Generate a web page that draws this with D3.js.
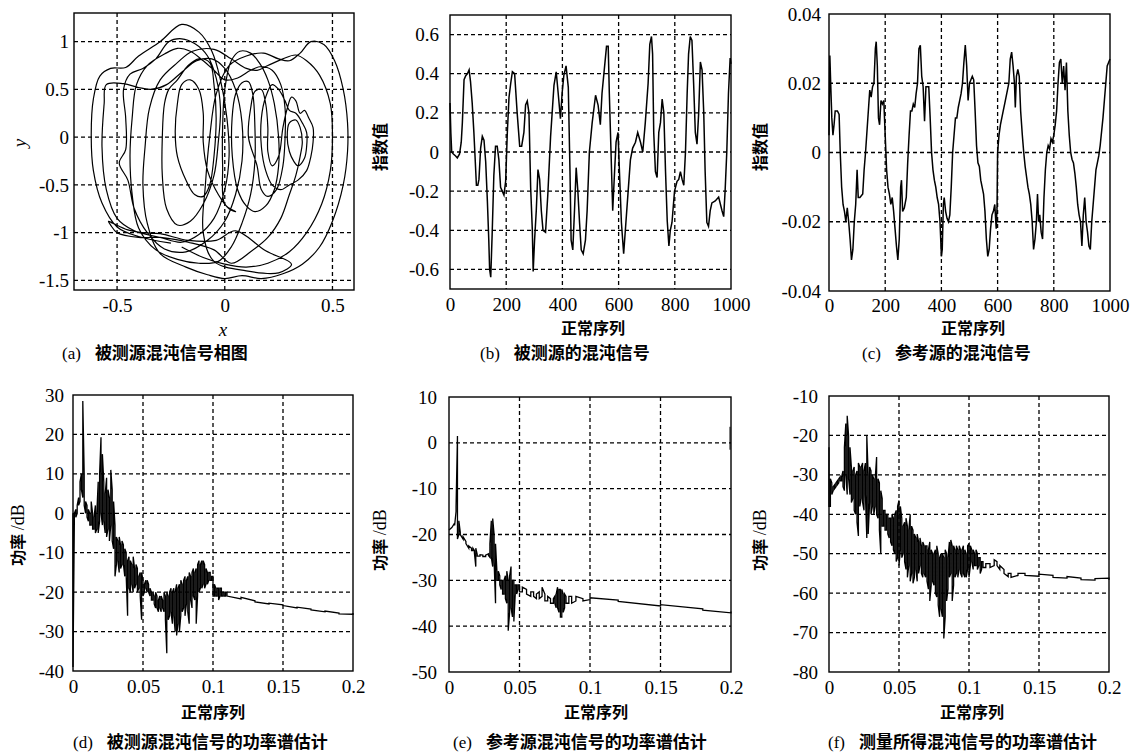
<!DOCTYPE html>
<html>
<head>
<meta charset="utf-8">
<script src="https://cdn.jsdelivr.net/npm/d3@7"></script>
<style>
body { margin: 0; background: #fff; }
svg { display: block; }
.cn { font-family: "Noto Sans CJK SC", sans-serif; font-weight: 700; fill: #000; }
.rm { font-family: "Liberation Serif", "Times New Roman", serif; fill: #000; }
</style>
</head>
<body>
<svg id="chart" width="1131" height="755"></svg>
<script>
// ---- (a) phase portrait, traced loop by loop ----
var phaseX = [
  -0.25,-0.40,-0.50,-0.57,-0.61,-0.62,-0.61,-0.58,-0.53,-0.46,-0.40,-0.30,-0.20,-0.12,-0.06,-0.02,0.01,0.02,0.00,-0.05,-0.12,-0.20,-0.30,-0.42,
  -0.50,-0.55,-0.57,-0.56,-0.55,-0.47,-0.40,-0.34,-0.27,-0.20,-0.13,-0.06,0.00,0.05,0.08,0.08,0.05,0.00,-0.08,-0.18,-0.28,-0.36,
  -0.42,-0.45,-0.49,-0.46,-0.46,-0.47,-0.44,-0.38,-0.32,-0.26,-0.20,-0.14,-0.08,-0.04,-0.02,-0.03,-0.05,-0.10,-0.16,-0.22,
  -0.27,-0.29,-0.29,-0.28,-0.26,-0.22,-0.17,-0.12,-0.07,-0.05,-0.04,-0.05,-0.07,-0.10,-0.14,
  -0.18,-0.22,-0.23,-0.22,-0.20,-0.16,-0.12,-0.10,-0.10,-0.08,-0.03,0.02,0.05,
  0.00,-0.01,-0.01,0.00,0.03,0.07,0.12,0.16,0.20,0.23,0.25,0.25,0.23,0.19,0.14,0.10,
  0.06,0.035,0.034,0.05,0.08,0.11,0.13,0.14,0.14,0.12,0.08,0.03,-0.03,-0.12,-0.22,-0.32,
  -0.40,-0.43,-0.44,-0.43,-0.41,-0.36,-0.28,-0.22,-0.16,-0.10,-0.05,0.00,0.06,0.12,0.17,0.22,0.26,0.28,0.28,0.27,0.24,0.20,0.17,
  0.15,0.11,0.12,0.14,0.17,0.19,0.20,0.20,0.22,0.25,0.27,0.29,0.31,0.33,0.35,0.37,0.39,0.41,0.41,0.40,0.38,0.34,0.30,0.26,0.22,0.19,
  0.17,0.17,0.19,0.22,0.25,0.28,0.30,0.33,0.36,0.38,0.38,0.37,0.34,0.32,0.30,0.29,0.30,0.33,0.35,0.36,0.35,0.33,0.30,0.26,0.20,0.12,0.03,
  -0.05,-0.17,-0.30,-0.40,-0.50,-0.53,
  -0.54,-0.52,-0.45,-0.38,-0.30,-0.17,-0.04,0.05,0.19,0.31,
  0.25,0.10,-0.05,-0.10,-0.09,-0.07,-0.04,0.02,0.10,0.18,0.25,0.30,0.35,0.40,0.46,0.51,0.55,0.57,0.57,0.55,0.50,0.44,0.36,0.27,0.17,0.08,0.00,-0.08,-0.18,-0.30,
  -0.36,-0.38,-0.37,-0.35,-0.30,-0.22,-0.15,-0.05,0.03,0.10,0.15,0.20,0.27,0.33,0.38,0.44,0.49,0.50,0.49,0.45,0.38,0.30,0.20,0.10,0.00,-0.10,-0.20
];
var phaseY = [
  -1.11,-1.04,-0.94,-0.69,-0.35,0.00,0.40,0.64,0.72,0.73,0.85,1.00,1.18,1.10,0.90,0.60,0.20,-0.20,-0.55,-0.85,-1.02,-1.10,-1.05,-0.98,
  -0.85,-0.55,-0.10,0.35,0.55,0.56,0.52,0.50,0.55,0.68,0.80,0.82,0.72,0.50,0.15,-0.25,-0.60,-0.88,-1.08,-1.20,-1.17,-1.00,
  -0.75,-0.45,-0.27,-0.13,0.20,0.50,0.66,0.72,0.82,1.00,1.03,0.98,0.85,0.62,0.30,-0.05,-0.40,-0.70,-0.88,-0.92,
  -0.75,-0.40,0.00,0.35,0.50,0.60,0.75,0.82,0.78,0.55,0.20,-0.20,-0.50,-0.62,-0.60,
  -0.45,-0.20,0.05,0.35,0.55,0.60,0.50,0.25,-0.05,-0.35,-0.60,-0.75,-0.78,
  -0.70,-0.30,0.10,0.50,0.80,0.90,0.88,0.78,0.60,0.35,0.00,-0.30,-0.55,-0.72,-0.78,-0.72,
  -0.55,-0.20,0.20,0.45,0.57,0.58,0.45,0.10,-0.25,-0.60,-0.90,-1.15,-1.30,-1.32,-1.28,-1.18,
  -0.95,-0.60,-0.20,0.20,0.55,0.75,0.87,0.93,0.90,0.80,0.70,0.60,0.62,0.70,0.74,0.70,0.55,0.30,0.00,-0.30,-0.55,-0.62,-0.55,
  -0.30,0.00,0.30,0.48,0.50,0.35,0.10,-0.15,-0.30,-0.20,0.10,0.30,0.42,0.38,0.25,0.28,0.20,0.10,-0.05,-0.20,-0.35,-0.45,-0.50,-0.55,-0.50,-0.35,
  -0.10,0.20,0.42,0.55,0.50,0.38,0.28,0.25,0.15,0.05,-0.10,-0.22,-0.30,-0.25,-0.15,0.00,0.15,0.18,0.10,-0.05,-0.20,-0.40,-0.60,-0.85,-1.05,-1.20,-1.32,
  -1.18,-1.10,-1.05,-1.05,-1.00,-0.92,
  -0.88,-0.90,-0.97,-1.00,-1.01,-1.08,-1.08,-0.98,-1.19,-1.33,
  -1.42,-1.40,-1.30,-1.00,-0.50,0.00,0.45,0.75,0.85,0.88,0.82,0.80,0.88,1.00,0.97,0.80,0.50,0.15,-0.15,-0.50,-0.88,-1.15,-1.33,-1.43,-1.48,-1.45,-1.48,-1.44,-1.36,-1.22,
  -0.90,-0.50,-0.10,0.30,0.60,0.78,0.90,0.92,0.82,0.72,0.70,0.75,0.82,0.86,0.80,0.65,0.35,0.00,-0.35,-0.70,-1.00,-1.20,-1.32,-1.36,-1.33,-1.26,-1.15
];
var phaseTicksX = [-0.5, 0, 0.5];
var phaseTicksY = [-1.5, -1, -0.5, 0, 0.5, 1];

// ---- (b) measured chaotic signal ----
var srcIndex = [0,3,6,12,20,26,34,40,44,50,56,62,68,73,79,85,90,94,99,103,109,115,121,127,133,138,141,145,150,156,162,168,174,180,186,192,198,204,210,216,222,230,239,248,255,263,269,275,281,287,293,296,301,307,313,319,325,331,340,348,358,370,378,385,393,399,405,413,421,427,431,437,443,449,455,461,467,474,482,488,496,506,518,527,535,541,551,557,563,567,573,579,585,591,598,603,610,618,624,634,642,650,660,668,678,686,695,705,711,717,721,725,731,737,743,749,755,761,767,773,779,784,790,799,808,814,820,826,832,838,844,849,855,861,867,873,879,885,891,897,903,908,914,920,926,932,944,956,968,974,979,985,991,997,1000];
var srcValue = [0.25,0.1,0.0,-0.01,-0.02,-0.03,-0.01,0.05,0.15,0.37,0.39,0.4,0.42,0.36,0.25,0.1,-0.05,-0.17,-0.17,-0.14,0.02,0.08,0.06,-0.05,-0.25,-0.45,-0.6,-0.64,-0.42,-0.12,0.03,0.03,-0.04,-0.18,-0.2,-0.22,-0.15,0.1,0.28,0.35,0.41,0.4,0.2,0.03,0.03,0.1,0.24,0.26,0.2,-0.18,-0.4,-0.61,-0.45,-0.3,-0.09,-0.14,-0.3,-0.4,-0.41,-0.22,0.08,0.34,0.41,0.3,0.17,0.3,0.39,0.44,0.33,-0.1,-0.45,-0.5,-0.3,-0.08,-0.2,-0.36,-0.5,-0.52,-0.45,-0.3,0.0,0.15,0.29,0.24,0.14,0.3,0.45,0.54,0.54,0.3,0.0,-0.3,-0.12,0.05,0.1,-0.1,-0.36,-0.52,-0.4,-0.2,-0.04,0.02,0.05,0.1,0.05,0.0,0.15,0.35,0.55,0.59,0.5,0.1,-0.1,-0.13,0.1,0.15,0.27,0.2,-0.1,-0.35,-0.48,-0.4,-0.36,-0.2,-0.15,-0.14,-0.1,-0.14,-0.17,0.0,0.3,0.5,0.59,0.57,0.35,0.1,0.04,0.2,0.46,0.42,0.2,-0.1,-0.36,-0.38,-0.3,-0.26,-0.25,-0.23,-0.3,-0.33,-0.2,0.0,0.3,0.48,0.45];
var seqTicks = [0, 200, 400, 600, 800, 1000];
var srcTicksY = [-0.6, -0.4, -0.2, 0, 0.2, 0.4, 0.6];

// ---- (c) reference chaotic signal ----
var refIndex = [0,3,6,10,14,18,22,30,36,40,45,50,55,60,65,70,75,80,85,90,95,100,104,110,120,125,130,140,145,150,155,160,165,168,172,176,180,185,190,195,200,205,210,215,220,225,230,235,240,245,250,255,258,262,268,275,280,285,290,295,300,305,310,315,320,325,330,335,340,345,350,355,360,365,370,375,380,385,390,395,400,403,407,410,415,420,425,430,435,440,445,450,455,460,465,470,475,480,485,490,495,500,505,510,515,520,525,530,535,540,545,550,555,560,565,570,575,580,585,590,595,598,600,605,610,615,620,625,630,635,640,645,650,655,660,663,667,672,677,682,688,693,698,703,708,713,718,723,728,733,738,742,746,750,755,760,765,770,775,780,785,790,795,800,805,810,815,820,825,830,835,840,845,850,855,860,865,870,875,880,885,890,895,900,905,910,915,920,925,930,935,940,945,950,955,960,965,970,975,980,985,990,995,1000];
var refValue = [0.005,0.028,0.02,0.01,0.005,0.008,0.012,0.012,0.011,0.0,-0.01,-0.015,-0.017,-0.02,-0.016,-0.02,-0.025,-0.031,-0.028,-0.02,-0.015,-0.005,-0.013,-0.013,-0.012,-0.005,0.0,0.012,0.018,0.016,0.019,0.02,0.03,0.032,0.025,0.01,0.008,0.015,0.014,0.015,0.005,-0.005,-0.01,-0.012,-0.015,-0.013,-0.017,-0.022,-0.027,-0.031,-0.025,-0.01,-0.008,-0.017,-0.016,-0.013,-0.003,0.005,0.012,0.012,0.014,0.013,0.017,0.02,0.03,0.031,0.022,0.019,0.009,0.019,0.019,0.019,0.01,0.0,-0.005,-0.008,-0.01,-0.013,-0.015,-0.02,-0.03,-0.028,-0.015,-0.013,-0.017,-0.019,-0.02,-0.018,-0.01,0.0,0.005,0.01,0.01,0.013,0.015,0.017,0.02,0.026,0.031,0.025,0.015,0.02,0.021,0.022,0.021,0.012,0.002,-0.003,-0.004,-0.008,-0.01,-0.012,-0.017,-0.025,-0.03,-0.028,-0.022,-0.018,-0.017,-0.015,-0.022,-0.016,0.0,0.005,0.008,0.01,0.012,0.014,0.016,0.018,0.02,0.027,0.029,0.025,0.02,0.013,0.022,0.024,0.022,0.012,0.005,0.0,-0.004,-0.007,-0.01,-0.012,-0.015,-0.02,-0.028,-0.025,-0.02,-0.012,-0.02,-0.018,-0.023,-0.025,-0.013,-0.005,0.0,0.002,0.001,0.004,0.003,0.005,0.008,0.012,0.02,0.026,0.027,0.02,0.025,0.018,0.026,0.012,0.005,0.0,-0.002,-0.003,-0.006,-0.01,-0.015,-0.018,-0.02,-0.027,-0.018,-0.013,-0.02,-0.023,-0.027,-0.028,-0.02,-0.015,-0.01,-0.005,-0.003,-0.001,0.002,0.006,0.01,0.015,0.02,0.025,0.026,0.027];
var refTicksY = [-0.04, -0.02, 0, 0.02, 0.04];

// ---- (d)(e)(f) power spectra: per frequency bin (x1000) the upper and lower trace ----
var freqTicks = [0, 0.05, 0.1, 0.15, 0.2];

var dFreq = [0,1,2,3,4,5,6,7,8,9,10,11,12,13,14,15,16,17,18,19,20,21,22,23,24,25,26,27,28,29,30,31,32,33,34,35,36,37,38,39,40,41,42,43,44,45,46,47,48,49,50,51,52,53,54,55,56,57,58,59,60,61,62,63,64,65,66,67,68,69,70,71,72,73,74,75,76,77,78,79,80,81,82,83,84,85,86,87,88,89,90,91,92,93,94,95,96,97,98,99,100,101,102,103,104,105,106,107,108,109,110,120,130,140,150,160,170,180,190,200];
var dHigh = [0,0,1,2,4,8,10,28.5,10,3, 2,1,0,3,0,-1,2,0,8,10, 19.3,15,8,5,9,6,4,11,6,3, -3,-6,-7,-6,-8,-7,-8,-9,-10,-12, -11,-12,-13,-11,-14,-13,-14,-16,-15,-15, -17,-18,-17,-17,-18,-19,-20,-20,-21,-20, -21,-22,-21,-21,-22,-20,-21,-20,-21,-20, -19,-20,-19,-20,-18,-19,-18,-17,-18,-17, -16,-17,-16,-15,-16,-15,-14,-15,-14,-13, -12,-13,-12,-12,-13,-14,-15,-15,-15,-16, -16,-18,-19,-19,-19,-19,-19,-20,-20,-20, -20,-21.3,-22.2,-22.8,-23.2,-23.8,-24.3,-24.8,-25.3,-25.3];
var dLow = [-39,-1,-1,0,2,3,6,4,2,0, -1,-2,-3,-3,-4,-4,-5,-4,-5,-2, 0,-3,-2,-5,-6,-4,-7,-3,-7,-9, -16,-13,-12,-15,-14,-13,-13,-16,-16,-26, -19,-20,-18,-20,-19,-18,-20,-19,-21,-27, -21,-20,-19,-20,-20,-21,-22,-22,-23,-24, -24,-25,-24,-25,-24,-25,-27,-35.5,-27,-26, -25,-28,-26,-30,-31,-28,-30,-26,-25,-24, -26,-23,-25,-28,-22,-24,-21,-22,-28,-21, -20,-19,-19,-18,-19,-18,-18,-17,-17,-17, -21,-21,-21,-21,-22,-21,-21,-21,-21,-21, -21,-21.7,-22.5,-23,-23.4,-24,-24.5,-25,-25.5,-25.6];
var dTicksY = [-40, -30, -20, -10, 0, 10, 20, 30];

var eFreq = [0,2,4,5,6,7,8,10,12,14,16,17,18,19,20,22,24,26,28,29,30,31,32,33,34,35,36,37,38,39,40,41,42,43,44,45,46,47,48,49,50,52,55,58,60,62,64,66,68,70,72,74,75,76,77,78,79,80,81,82,83,85,87,90,95,100,120,150,180,200];
var eHigh = [-19,-18.5,-17.5,-14,1.5,-17,-19.5,-20.5,-21.5,-22.5, -23,-23,-23.5,-23,-24.3,-24.4,-24.5,-24.5,-24.2,-22, -17,-16.5,-20,-22,-28,-28,-29,-30,-30,-30, -29,-28,-30,-29,-27,-30,-30,-31,-31,-31, -31,-31.5,-32,-32.5,-32.5,-33,-32.5,-31.5,-33,-33.5, -34,-34,-33.5,-33,-31.5,-32,-32,-32,-33,-33, -33.5,-33.5,-33.5,-33.5,-34,-33.8,-34.3,-35.3,-36.2,-36.8];
var eLow = [-19,-18.5,-18,-15,-21,-20,-20,-21,-22,-23, -23.5,-23.5,-24,-27,-24.7,-24.7,-24.8,-24.8,-24.6,-25, -25,-27,-26,-35,-30,-30,-31,-32,-33,-33, -34,-35,-41,-37,-36,-38,-39,-33,-33,-32, -32.5,-32.5,-33,-33.5,-33.5,-34,-34,-33.5,-34.5,-34.5, -35,-35,-35,-36,-36,-37,-38,-38,-37,-36, -35,-35,-35,-34.5,-34.5,-34.2,-34.6,-35.6,-36.5,-37.1];
var eEdge = [3.5, -1.5];
var eTicksY = [-50, -40, -30, -20, -10, 0, 10];

var fFreq = [0,1,2,3,4,5,6,7,8,9,10,11,12,13,14,15,16,17,18,19,20,21,22,23,24,25,26,27,28,29,30,31,32,33,34,35,36,37,38,39,40,41,42,43,44,45,46,47,48,49,50,51,52,53,54,55,56,57,58,59,60,61,62,63,64,65,66,67,68,69,70,71,72,73,74,75,76,77,78,79,80,81,82,83,84,85,86,87,88,89,90,91,92,93,94,95,96,97,98,99,100,101,102,103,104,105,106,107,108,109,110,112,115,118,120,122,125,128,130,135,140,150,160,170,180,190,200];
var fHigh = [-23,-31,-32,-33,-32.5,-32,-31.5,-31,-30.5,-30.5, -29,-23,-17,-15,-20,-23,-28,-29,-28,-30, -29,-27,-28,-28,-27,-29,-27,-20,-30,-28, -29,-30,-31,-31,-25.5,-31,-32,-34,-36,-39, -39,-40,-40,-41,-41,-40,-41,-40,-39,-38, -36.5,-38,-41,-43,-42,-41,-43,-44,-40,-43, -44,-45,-46,-45,-47,-46,-48,-47,-48,-48, -48,-49,-47,-49,-50,-50,-49,-48,-50,-51, -50,-50,-51,-49,-50,-51,-47,-46.5,-48,-48, -49,-48,-49,-48,-49,-49,-48,-49,-50,-48, -47.5,-48,-49,-49,-50,-49,-50,-51,-51,-52, -52,-52.5,-52.5,-51.5,-52,-53,-54,-55,-55,-55,-55,-55.2,-55.5,-55.8,-56.2,-56.3,-56.2];
var fLow = [-38,-38,-35,-34,-33.5,-33,-32.5,-32,-31.5,-31.5, -33,-34,-30,-35,-31,-35,-37,-36,-39,-40, -42,-45.5,-38,-36,-37,-39,-35,-46,-45,-37, -40,-38,-40,-38,-40,-41,-44,-50,-43,-43, -44,-44,-45,-46,-47,-48,-49,-50,-52,-51, -53,-49,-51,-50,-52,-54,-56,-53,-57,-55, -57.5,-56,-54,-57,-55,-53,-55,-56,-55,-56, -57,-59,-62,-58,-57,-58,-60,-61,-63,-66, -64,-66,-71.5,-66,-62,-59,-56,-55,-62,-58, -56,-55,-56,-54,-55,-56,-55,-56,-56,-54, -56,-53,-52,-54,-53,-53,-54,-53,-55,-54, -53.5,-53.5,-53.5,-53,-53,-54,-55,-55.8,-56,-55.5,-55.5,-55.7,-56,-56.2,-56.6,-56.7,-56.6];
var fTicksY = [-80, -70, -60, -50, -40, -30, -20, -10];

var svg = d3.select("#chart");
var fmt = function(d) { return String(+d.toFixed(3)); };
var serif = '"Liberation Serif", "Times New Roman", serif';

function styleTicks(a) {
    a.select(".domain").remove();
    a.selectAll("text")
        .attr("font-family", serif)
        .attr("font-size", 19)
        .style("font-family", serif)
        .style("font-size", "19px")
        .attr("fill", "#000");
}

function panel(o) {
    var x = d3.scaleLinear().domain(o.xDomain).range([o.left, o.right]);
    var y = d3.scaleLinear().domain(o.yDomain).range([o.bottom, o.top]);
    var g = svg.append("g");

    g.selectAll("line.gx")
        .data(o.xTicks.filter(function(d) { return d > o.xDomain[0] && d < o.xDomain[1]; }))
        .enter().append("line")
        .attr("x1", x).attr("x2", x)
        .attr("y1", o.top).attr("y2", o.bottom)
        .attr("stroke", "#000").attr("stroke-width", 1.3).attr("stroke-dasharray", "4,3");

    g.selectAll("line.gy")
        .data(o.yTicks.filter(function(d) { return d > o.yDomain[0] && d < o.yDomain[1]; }))
        .enter().append("line")
        .attr("y1", y).attr("y2", y)
        .attr("x1", o.left).attr("x2", o.right)
        .attr("stroke", "#000").attr("stroke-width", 1.3).attr("stroke-dasharray", "4,3");

    g.append("g")
        .attr("transform", "translate(0," + o.bottom + ")")
        .call(d3.axisBottom(x).tickValues(o.xTicks).tickFormat(fmt).tickSize(0).tickPadding(o.xPad))
        .call(styleTicks);

    g.append("g")
        .attr("transform", "translate(" + o.left + ",0)")
        .call(d3.axisLeft(y).tickValues(o.yTicks).tickFormat(fmt).tickSize(0).tickPadding(o.yPad))
        .call(styleTicks);

    g.append("rect")
        .attr("x", o.left).attr("y", o.top)
        .attr("width", o.right - o.left).attr("height", o.bottom - o.top)
        .attr("fill", "none").attr("stroke", "#000").attr("stroke-width", 1.4);

    return { g: g, x: x, y: y };
}

function spectrum(p, freq, hi, lo) {
    var pts = [];
    freq.forEach(function(f, i) {
        if (i % 2 === 0) { pts.push([f / 1000, hi[i]], [f / 1000, lo[i]]); }
        else { pts.push([f / 1000, lo[i]], [f / 1000, hi[i]]); }
    });
    p.g.append("path")
        .datum(pts)
        .attr("fill", "none").attr("stroke", "#000").attr("stroke-width", 1.3)
        .attr("d", d3.line().x(function(d) { return p.x(d[0]); }).y(function(d) { return p.y(d[1]); }));
}

function caption(x, y, tag, text) {
    var t = svg.append("text").attr("x", x).attr("y", y);
    t.append("tspan").attr("class", "rm").attr("font-size", 17).text(tag);
    t.append("tspan").attr("class", "cn").attr("font-size", 17).attr("dx", 14).text(text);
}

function cnLabel(x, y, text, rotate) {
    svg.append("text").attr("class", "cn").attr("font-size", 16)
        .attr("text-anchor", "middle")
        .attr("transform", "translate(" + x + "," + y + ")" + (rotate ? " rotate(-90)" : ""))
        .text(text);
}

function dbLabel(x, y) {
    var t = svg.append("text").attr("text-anchor", "middle")
        .attr("transform", "translate(" + x + "," + y + ") rotate(-90)");
    t.append("tspan").attr("class", "cn").attr("font-size", 16).text("功率 ");
    t.append("tspan").attr("class", "rm").attr("font-size", 18).text("/dB");
}

// (a)
var pa = panel({ left: 74, right: 354, top: 13, bottom: 290, xDomain: [-0.7, 0.6], yDomain: [-1.6, 1.3],
    xTicks: phaseTicksX, yTicks: phaseTicksY, xPad: 9, yPad: 5 });
pa.g.append("path")
    .datum(phaseX.map(function(v, i) { return [v, phaseY[i]]; }))
    .attr("fill", "none").attr("stroke", "#000").attr("stroke-width", 1.2)
    .attr("d", d3.line().curve(d3.curveCatmullRom.alpha(0.5))
        .x(function(d) { return pa.x(d[0]); }).y(function(d) { return pa.y(d[1]); }));
svg.append("text").attr("class", "rm").attr("font-size", 19).attr("font-style", "italic")
    .attr("text-anchor", "middle").attr("x", 223).attr("y", 336).text("x");
svg.append("text").attr("class", "rm").attr("font-size", 19).attr("font-style", "italic")
    .attr("text-anchor", "middle").attr("transform", "translate(26,143) rotate(-90)").text("y");

// (b)
var pb = panel({ left: 450, right: 731, top: 15, bottom: 289, xDomain: [0, 1000], yDomain: [-0.7, 0.7],
    xTicks: seqTicks, yTicks: srcTicksY, xPad: 9, yPad: 11 });
pb.g.append("path")
    .datum(srcIndex.map(function(v, i) { return [v, srcValue[i]]; }))
    .attr("fill", "none").attr("stroke", "#000").attr("stroke-width", 1.5)
    .attr("d", d3.line().x(function(d) { return pb.x(d[0]); }).y(function(d) { return pb.y(d[1]); }));

// (c)
var pc = panel({ left: 829, right: 1110, top: 14, bottom: 291, xDomain: [0, 1000], yDomain: [-0.04, 0.04],
    xTicks: seqTicks, yTicks: refTicksY, xPad: 8, yPad: 8 });
pc.g.append("path")
    .datum(refIndex.map(function(v, i) { return [v, refValue[i]]; }))
    .attr("fill", "none").attr("stroke", "#000").attr("stroke-width", 1.5)
    .attr("d", d3.line().x(function(d) { return pc.x(d[0]); }).y(function(d) { return pc.y(d[1]); }));

// (d)
var pd = panel({ left: 73, right: 353, top: 395, bottom: 671, xDomain: [0, 0.2], yDomain: [-40, 30],
    xTicks: freqTicks, yTicks: dTicksY, xPad: 9, yPad: 9 });
spectrum(pd, dFreq, dHigh, dLow);

// (e)
var pe = panel({ left: 449, right: 731, top: 397, bottom: 672, xDomain: [0, 0.2], yDomain: [-50, 10],
    xTicks: freqTicks, yTicks: eTicksY, xPad: 9, yPad: 12 });
spectrum(pe, eFreq, eHigh, eLow);
pe.g.append("line")
    .attr("x1", pe.x(0.2) - 1).attr("x2", pe.x(0.2) - 1)
    .attr("y1", pe.y(eEdge[0])).attr("y2", pe.y(eEdge[1]))
    .attr("stroke", "#000").attr("stroke-width", 1);

// (f)
var pf = panel({ left: 829, right: 1109, top: 396, bottom: 672, xDomain: [0, 0.2], yDomain: [-80, -10],
    xTicks: freqTicks, yTicks: fTicksY, xPad: 9, yPad: 11 });
spectrum(pf, fFreq, fHigh, fLow);

// axis titles
cnLabel(386, 147, "指数值", true);
cnLabel(766, 147, "指数值", true);
cnLabel(593, 334, "正常序列", false);
cnLabel(973, 334, "正常序列", false);
cnLabel(213, 718, "正常序列", false);
cnLabel(596, 718, "正常序列", false);
cnLabel(972, 718, "正常序列", false);
dbLabel(24, 535);
dbLabel(386, 540);
dbLabel(766, 540);

// captions
caption(62, 359, "(a)", "被测源混沌信号相图");
caption(480, 359, "(b)", "被测源的混沌信号");
caption(862, 359, "(c)", "参考源的混沌信号");
caption(73, 748, "(d)", "被测源混沌信号的功率谱估计");
caption(453, 748, "(e)", "参考源混沌信号的功率谱估计");
caption(828, 748, "(f)", "测量所得混沌信号的功率谱估计");
</script>
</body>
</html>
